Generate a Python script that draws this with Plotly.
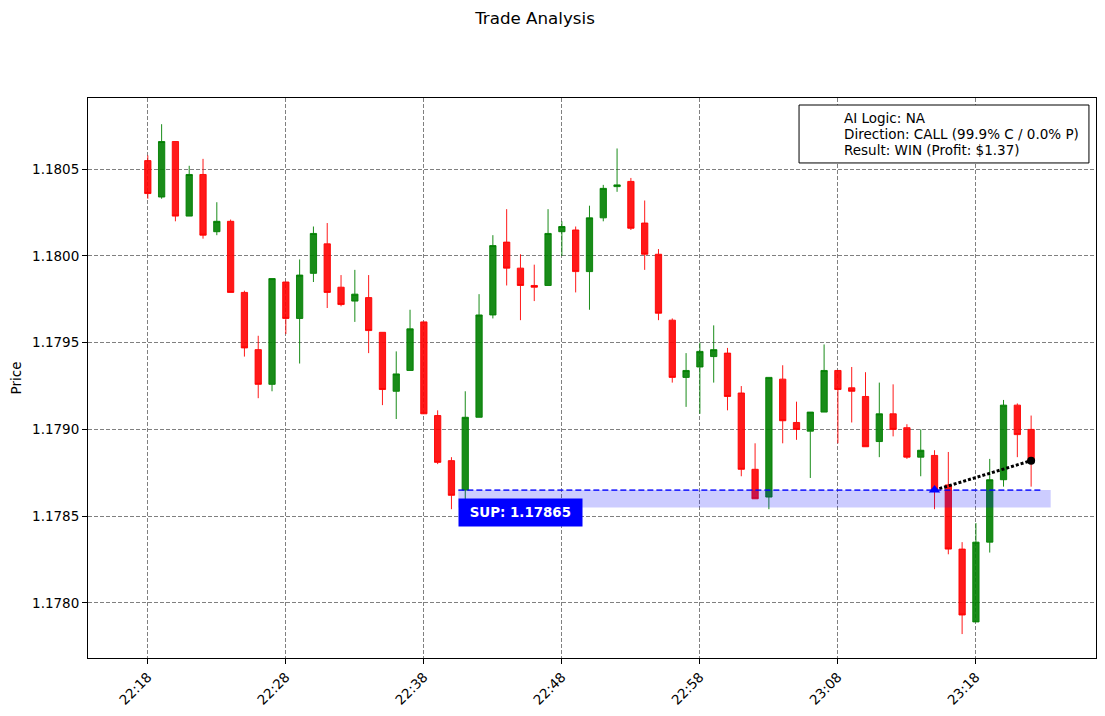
import pandas as pd
import plotly.graph_objects as go

# one-minute candles, 22:18 -> 23:22
times = pd.date_range("2024-01-01 22:18", periods=65, freq="1min")

opens = [1.18055, 1.18034, 1.18066, 1.18023, 1.18047, 1.18014, 1.18020, 1.17979, 1.17946, 1.17926,
         1.17985, 1.17964, 1.17990, 1.18007, 1.17982, 1.17974, 1.17976, 1.17956, 1.17922, 1.17934,
         1.17962, 1.17908, 1.17882, 1.17865, 1.17907, 1.17966, 1.18008, 1.17993, 1.17983, 1.17983,
         1.18014, 1.18015, 1.17991, 1.18022, 1.18040, 1.18043, 1.18019, 1.18001, 1.17963, 1.17930,
         1.17936, 1.17942, 1.17944, 1.17921, 1.17877, 1.17861, 1.17929, 1.17904, 1.17899, 1.17910,
         1.17934, 1.17924, 1.17919, 1.17893, 1.17909, 1.17901, 1.17884, 1.17885, 1.17868, 1.17831,
         1.17789, 1.17835, 1.17871, 1.17914, 1.17900]
highs = [1.18058, 1.18076, 1.18066, 1.18052, 1.18056, 1.18031, 1.18021, 1.17980, 1.17954, 1.17987,
         1.17985, 1.17998, 1.18017, 1.18019, 1.17989, 1.17992, 1.17989, 1.17956, 1.17945, 1.17969,
         1.17962, 1.17911, 1.17884, 1.17922, 1.17978, 1.18012, 1.18027, 1.18001, 1.17995, 1.18027,
         1.18020, 1.18017, 1.18029, 1.18041, 1.18062, 1.18045, 1.18032, 1.18004, 1.17964, 1.17944,
         1.17950, 1.17960, 1.17947, 1.17925, 1.17892, 1.17930, 1.17937, 1.17916, 1.17910, 1.17949,
         1.17934, 1.17936, 1.17933, 1.17927, 1.17926, 1.17903, 1.17900, 1.17888, 1.17887, 1.17835,
         1.17846, 1.17883, 1.17917, 1.17915, 1.17908]
lows = [1.18033, 1.18033, 1.18020, 1.18023, 1.18010, 1.18012, 1.17979, 1.17942, 1.17918, 1.17922,
        1.17955, 1.17938, 1.17985, 1.17970, 1.17971, 1.17962, 1.17944, 1.17914, 1.17906, 1.17934,
        1.17909, 1.17880, 1.17854, 1.17858, 1.17907, 1.17964, 1.17983, 1.17963, 1.17974, 1.17983,
        1.18000, 1.17979, 1.17969, 1.18020, 1.18037, 1.18015, 1.17992, 1.17963, 1.17927, 1.17913,
        1.17909, 1.17927, 1.17911, 1.17873, 1.17860, 1.17854, 1.17892, 1.17894, 1.17872, 1.17910,
        1.17892, 1.17904, 1.17890, 1.17884, 1.17896, 1.17883, 1.17873, 1.17854, 1.17828, 1.17782,
        1.17789, 1.17829, 1.17867, 1.17884, 1.17867]
closes = [1.18036, 1.18066, 1.18023, 1.18047, 1.18012, 1.18020, 1.17979, 1.17947, 1.17926, 1.17987,
          1.17964, 1.17989, 1.18013, 1.17979, 1.17972, 1.17978, 1.17957, 1.17923, 1.17932, 1.17958,
          1.17909, 1.17881, 1.17862, 1.17907, 1.17966, 1.18006, 1.17993, 1.17983, 1.17982, 1.18013,
          1.18017, 1.17991, 1.18022, 1.18039, 1.18041, 1.18016, 1.18001, 1.17967, 1.17930, 1.17934,
          1.17945, 1.17946, 1.17919, 1.17877, 1.17860, 1.17930, 1.17905, 1.17900, 1.17910, 1.17934,
          1.17923, 1.17922, 1.17890, 1.17909, 1.17900, 1.17884, 1.17888, 1.17865, 1.17831, 1.17793,
          1.17835, 1.17871, 1.17914, 1.17897, 1.17882]

# support zone
sup_level = 1.17865
sup_low = 1.17855
sup_start = pd.Timestamp("2024-01-01 22:40:30")
sup_line_end = pd.Timestamp("2024-01-01 23:22:50")
sup_band_end = pd.Timestamp("2024-01-01 23:23:25")
sup_label_y = 1.17852

# trade
entry_time = pd.Timestamp("2024-01-01 23:15")
entry_price = 1.17865
exit_time = pd.Timestamp("2024-01-01 23:22")
exit_price = 1.17882

info_lines = ["AI Logic: NA", "Direction: CALL (99.9% C / 0.0% P)", "Result: WIN (Profit: $1.37)"]

RED = "rgba(255,0,0,0.9)"
GREEN = "rgba(0,128,0,0.9)"
FONT = "DejaVu Sans"
GRID = dict(showgrid=True, gridcolor="gray", griddash="4px,2px", gridwidth=0.8,
            showline=True, linecolor="black", linewidth=1, mirror=True,
            ticks="outside", ticklen=5, tickcolor="black", zeroline=False,
            tickfont=dict(family=FONT, size=13.5), automargin=False)

fig = go.Figure()

fig.add_trace(go.Candlestick(
    x=times, open=opens, high=highs, low=lows, close=closes,
    increasing=dict(line=dict(color=GREEN, width=1), fillcolor=GREEN),
    decreasing=dict(line=dict(color=RED, width=1), fillcolor=RED),
    whiskerwidth=0, showlegend=False,
))

# support band + dashed level (sits over the candles)
fig.add_shape(type="rect", x0=sup_start, x1=sup_band_end, y0=sup_low, y1=sup_level,
              fillcolor="rgba(0,0,255,0.2)", line_width=0, layer="above")
fig.add_shape(type="line", x0=sup_start, x1=sup_line_end, y0=sup_level, y1=sup_level,
              line=dict(color="rgba(0,0,255,0.8)", width=1.8, dash="6px,3px"), layer="above")

fig.add_trace(go.Scatter(
    x=[entry_time, exit_time], y=[entry_price, exit_price], mode="lines",
    line=dict(color="black", width=3, dash="3px,2px"), showlegend=False,
))
fig.add_trace(go.Scatter(
    x=[entry_time], y=[entry_price], mode="markers",
    marker=dict(symbol="triangle-up", size=10, color="blue"), showlegend=False,
))
fig.add_trace(go.Scatter(
    x=[exit_time], y=[exit_price], mode="markers",
    marker=dict(symbol="circle", size=8, color="black"), showlegend=False,
))

fig.add_annotation(
    x=sup_start, y=sup_label_y, xref="x", yref="y", xanchor="left", yanchor="middle",
    text="<b>&nbsp;SUP: %.5f&nbsp;</b>" % sup_level, showarrow=False,
    font=dict(family=FONT, size=13.4, color="white"),
    bgcolor="blue", borderpad=6,
)

# info box top right
fig.add_shape(type="rect", xref="paper", yref="paper", x0=0.7054, x1=0.993, y0=0.884, y1=0.9875,
              line=dict(color="black", width=1), fillcolor="white", layer="above")
for line, ypos in zip(info_lines, [0.9643, 0.9357, 0.9071]):
    fig.add_annotation(
        x=0.7480, y=ypos, xref="paper", yref="paper", xanchor="left", yanchor="middle",
        text=line, align="left", showarrow=False,
        font=dict(family=FONT, size=13.5, color="black"),
    )

fig.update_layout(
    width=1090, height=700,
    margin=dict(l=80, r=2, t=90, b=50),
    paper_bgcolor="white", plot_bgcolor="white",
    font=dict(family=FONT, size=13.5, color="black"),
    title=dict(text="Trade Analysis", x=527 / 1090, xanchor="center", y=1 - 10 / 700, yanchor="middle",
               font=dict(family=FONT, size=16.7, color="black")),
    boxgap=0.35,
)
fig.update_xaxes(
    type="date", rangeslider_visible=False,
    range=[pd.Timestamp("2024-01-01 22:13:40"), pd.Timestamp("2024-01-01 23:26:42")],
    tick0="2024-01-01 22:18", dtick=600000, tickformat="%H:%M", tickangle=-45,
    **GRID,
)
fig.update_yaxes(
    title=dict(text="Price", font=dict(family=FONT, size=13.5), standoff=8),
    range=[1.177682, 1.180911], dtick=0.0005, tickformat=".4f",
    **GRID,
)

fig.write_html("out.html")
